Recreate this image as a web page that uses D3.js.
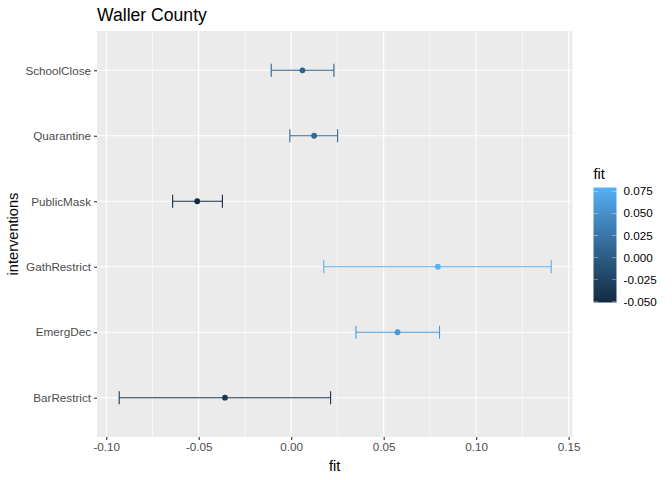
<!doctype html>
<html>
<head>
<meta charset="utf-8">
<script src="https://cdnjs.cloudflare.com/ajax/libs/d3/7.8.5/d3.min.js"></script>
<style>
body { margin: 0; background: #fff; }
text { font-family: "Liberation Sans", Arial, Helvetica, sans-serif; }
</style>
</head>
<body>
<svg id="chart" width="672" height="480"></svg>
<script>
// data
var interventions = ["SchoolClose", "Quarantine", "PublicMask", "GathRestrict", "EmergDec", "BarRestrict"];
var fit   = [0.0061, 0.0124, -0.0508, 0.0793, 0.0575, -0.0358];
var lower = [-0.0108, -0.0007, -0.0641, 0.0176, 0.0350, -0.0930];
var upper = [0.0231, 0.0251, -0.0372, 0.1406, 0.0802, 0.0213];
var xTicks = [-0.10, -0.05, 0.00, 0.05, 0.10, 0.15];
var legendTicks = [-0.050, -0.025, 0.000, 0.025, 0.050, 0.075];

var svg = d3.select("#chart");
var panel = {left: 97, right: 572.5, top: 31, bottom: 437};
var hyphen = f => (d => f(d).replace("\u2212", "-"));

var x = d3.scaleLinear().domain([-0.105, 0.1521]).range([panel.left, panel.right]);
var y = d3.scalePoint().domain(interventions).range([panel.top, panel.bottom]).padding(0.6);
var step = y.step();
var color = d3.scaleLinear().domain(d3.extent(fit)).range(["#132B43", "#56B1F7"]).interpolate(d3.interpolateLab);

// panel background
svg.append("rect").attr("x", panel.left).attr("y", panel.top)
  .attr("width", panel.right - panel.left).attr("height", panel.bottom - panel.top)
  .attr("fill", "#EBEBEB");

// minor grid
var minor = d3.range(0, xTicks.length - 1).map(i => (xTicks[i] + xTicks[i + 1]) / 2);
svg.append("g").selectAll("line").data(minor).enter().append("line")
  .attr("x1", d => x(d)).attr("x2", d => x(d))
  .attr("y1", panel.top).attr("y2", panel.bottom)
  .attr("stroke", "#fff").attr("stroke-width", 0.55);

// major grid
svg.append("g").selectAll("line").data(xTicks).enter().append("line")
  .attr("x1", d => x(d)).attr("x2", d => x(d))
  .attr("y1", panel.top).attr("y2", panel.bottom)
  .attr("stroke", "#fff").attr("stroke-width", 1.1);
svg.append("g").selectAll("line").data(interventions).enter().append("line")
  .attr("x1", panel.left).attr("x2", panel.right)
  .attr("y1", d => y(d)).attr("y2", d => y(d))
  .attr("stroke", "#fff").attr("stroke-width", 1.1);

// error bars
var rows = interventions.map((k, i) => ({k: k, fit: fit[i], lo: lower[i], hi: upper[i]}));
var capH = step * 0.2 / 2;
var eb = svg.append("g").selectAll("g").data(rows).enter().append("g")
  .attr("stroke", d => color(d.fit)).attr("stroke-width", 1.1);
eb.append("line").attr("x1", d => x(d.lo)).attr("x2", d => x(d.hi))
  .attr("y1", d => y(d.k)).attr("y2", d => y(d.k));
eb.append("line").attr("x1", d => x(d.lo)).attr("x2", d => x(d.lo))
  .attr("y1", d => y(d.k) - capH).attr("y2", d => y(d.k) + capH);
eb.append("line").attr("x1", d => x(d.hi)).attr("x2", d => x(d.hi))
  .attr("y1", d => y(d.k) - capH).attr("y2", d => y(d.k) + capH);

svg.append("g").selectAll("circle").data(rows).enter().append("circle")
  .attr("cx", d => x(d.fit)).attr("cy", d => y(d.k)).attr("r", 2.9)
  .attr("fill", d => color(d.fit));

// axes
var xAxis = svg.append("g").attr("transform", "translate(0," + panel.bottom + ")")
  .call(d3.axisBottom(x).tickValues(xTicks).tickSize(3).tickPadding(3).tickFormat(hyphen(d3.format(".2f"))));
var yAxis = svg.append("g").attr("transform", "translate(" + panel.left + ",0)")
  .call(d3.axisLeft(y).tickSize(3).tickPadding(3));
[xAxis, yAxis].forEach(function(a) {
  a.select(".domain").remove();
  a.selectAll(".tick line").attr("stroke", "#333").attr("stroke-width", 1.1);
  a.selectAll(".tick text").attr("fill", "#4D4D4D").style("font-size", "11.7px")
    .style("font-family", "'Liberation Sans', Arial, sans-serif");
});

// titles
svg.append("text").attr("x", panel.left).attr("y", 21).attr("font-size", 17.6)
  .attr("fill", "#000").text("Waller County");
svg.append("text").attr("x", (panel.left + panel.right) / 2).attr("y", 471)
  .attr("text-anchor", "middle").attr("font-size", 14.6).text("fit");
svg.append("text").attr("transform", "translate(18," + (panel.top + panel.bottom) / 2 + ") rotate(-90)")
  .attr("text-anchor", "middle").attr("font-size", 14.6).text("interventions");

// legend
var lg = {x: 593.5, w: 23, top: 187.5, bottom: 302.5};
var lgScale = d3.scaleLinear().domain(d3.extent(fit)).range([lg.bottom, lg.top]);
var defs = svg.append("defs");
var grad = defs.append("linearGradient").attr("id", "lgrad")
  .attr("x1", 0).attr("y1", 1).attr("x2", 0).attr("y2", 0);
d3.range(0, 1.0001, 0.1).forEach(function(t) {
  var v = d3.extent(fit)[0] + t * (d3.extent(fit)[1] - d3.extent(fit)[0]);
  grad.append("stop").attr("offset", t).attr("stop-color", color(v));
});
svg.append("rect").attr("x", lg.x).attr("y", lg.top).attr("width", lg.w)
  .attr("height", lg.bottom - lg.top).attr("fill", "url(#lgrad)");
var lt = svg.append("g").selectAll("g").data(legendTicks).enter().append("g");
lt.append("line").attr("x1", lg.x).attr("x2", lg.x + lg.w / 5)
  .attr("y1", d => lgScale(d)).attr("y2", d => lgScale(d))
  .attr("stroke", "#fff").attr("stroke-width", 0.6).attr("opacity", 0.7);
lt.append("line").attr("x1", lg.x + lg.w * 4 / 5).attr("x2", lg.x + lg.w)
  .attr("y1", d => lgScale(d)).attr("y2", d => lgScale(d))
  .attr("stroke", "#fff").attr("stroke-width", 0.6).attr("opacity", 0.7);
lt.append("text").attr("x", lg.x + lg.w + 7).attr("y", d => lgScale(d))
  .attr("dy", "0.35em").attr("font-size", 11.7).attr("fill", "#000")
  .text(hyphen(d3.format(".3f")));
svg.append("text").attr("x", lg.x).attr("y", 179).attr("font-size", 14.6).text("fit");
</script>
</body>
</html>
